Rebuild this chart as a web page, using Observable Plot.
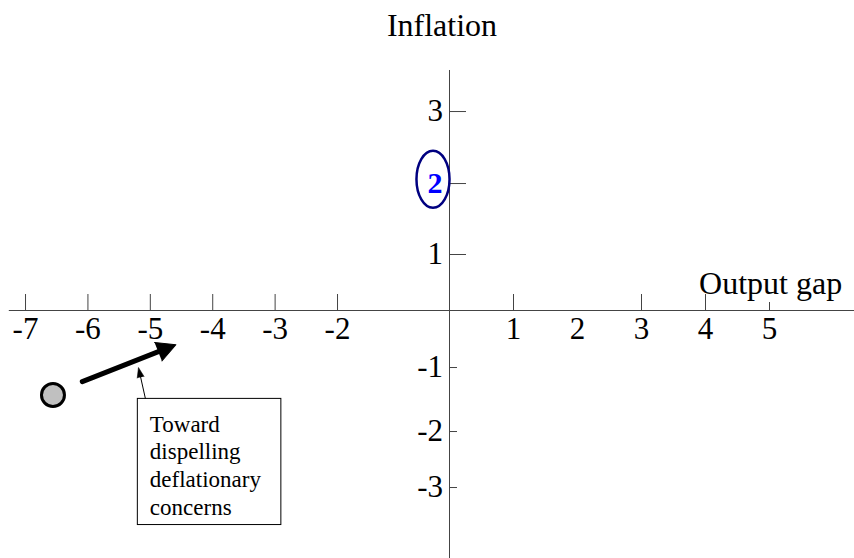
<!DOCTYPE html>
<html><head><meta charset="utf-8">
<script src="https://cdn.jsdelivr.net/npm/d3@7"></script>
<script src="https://cdn.jsdelivr.net/npm/@observablehq/plot@0.6"></script>
<style>body{margin:0;background:#fff}</style>
</head><body><div id="chart"></div>
<script>
// ---- data ----
const xTickLong = [-7, -6, -5, -4, -3, -2, 1, 3, 4];
const xTickShort = [5];
const xTickLabels = [-7, -6, -5, -4, -3, -2, 1, 2, 3, 4, 5];
const yTickLong = [1, 2, 3];
const yTickShort = [-1, -2, -3];
const yTickLabels = [-3, -2, -1, 1, 3];
const highlightedY = [2];
const xAxisTitle = "Output gap";
const yAxisTitle = "Inflation";
const xAxisExtent = [-7.26, 6.35];
const yAxisExtent = [-4.27, 3.57];
const xTitlePos = [3.9];
const startPoint = [{x: -6.56, y: -1.43}];
const moveArrow = [{x1: -6.09, y1: -1.22, x2: -4.59, y2: -0.60}];
const noteArrow = [{x1: -5.08, y1: -1.48, x2: -5.19, y2: -1.0}];
const noteBox = [{x1: -5.20, x2: -2.90, y1: -1.49, y2: -3.67}];
const noteLines = ["Toward", "dispelling", "deflationary", "concerns"];
const ellipseCenter = [{x: -0.295, y: 2.06}];

// ---- hand-drawn diagram: uneven tick spacing, expressed as scale transforms ----
const xWarp = d3.scaleLinear([-7, -2, 0, 5], [-6.625, -1.75, 0, 5]);
const yWarp = d3.scaleLinear([-3, -2, -1, 0, 1, 2, 3], [-2.766, -1.891, -0.891, 0, 0.875, 1.984, 3.109]);
const xScale = {transform: xWarp, domain: [-7.016, 6.328], range: [0, 854], axis: null};
const yScale = {transform: yWarp, domain: [-3.875, 4.844], range: [558, 0], axis: null};

// pixel-space direction of an arrow (both warped axes use 64 px per unit)
const angleOf = d => Math.atan2(xWarp(d.x2) - xWarp(d.x1), yWarp(d.y2) - yWarp(d.y1)) * 180 / Math.PI;
const moveAngle = angleOf(moveArrow[0]);
const noteAngle = angleOf(noteArrow[0]);

const ellipseSymbol = {
  draw(ctx, size) {
    const ry = Math.sqrt(size / Math.PI), rx = ry * 0.58, k = 0.5523;
    ctx.moveTo(0, -ry);
    ctx.bezierCurveTo(k * rx, -ry, rx, -k * ry, rx, 0);
    ctx.bezierCurveTo(rx, k * ry, k * rx, ry, 0, ry);
    ctx.bezierCurveTo(-k * rx, ry, -rx, k * ry, -rx, 0);
    ctx.bezierCurveTo(-rx, -k * ry, -k * rx, -ry, 0, -ry);
    ctx.closePath();
  }
};

const axisColor = "#444";
const font = "'Liberation Serif', 'Times New Roman', serif";

const chart = Plot.plot({
  width: 854,
  height: 558,
  margin: 0,
  x: xScale,
  y: yScale,
  style: {fontFamily: font, background: "#fff", color: "black"},
  marks: [
    Plot.ruleY([0], {x1: xAxisExtent[0], x2: xAxisExtent[1], stroke: axisColor}),
    Plot.ruleX([0], {y1: yAxisExtent[0], y2: yAxisExtent[1], stroke: axisColor}),
    Plot.ruleX(xTickLong, {x: d => d, y1: 0, y2: 0, insetTop: -16, stroke: axisColor}),
    Plot.ruleX(xTickShort, {x: d => d, y1: 0, y2: 0, insetTop: -8, stroke: axisColor}),
    Plot.ruleY(yTickLong, {y: d => d, x1: 0, x2: 0, insetRight: -17, stroke: axisColor}),
    Plot.ruleY(yTickShort, {y: d => d, x1: 0, x2: 0, insetRight: -8, stroke: axisColor}),
    Plot.text(xTickLabels, {x: d => d, y: 0, text: d => String(d), dy: 18.5, fontSize: 31, fill: "black"}),
    Plot.text(yTickLabels, {x: 0, y: d => d, text: d => String(d), dx: -6.5, textAnchor: "end", fontSize: 31, fill: "black"}),
    Plot.text(highlightedY, {x: 0, y: d => d, text: d => String(d), dx: -7, textAnchor: "end", fontSize: 30, fontWeight: "bold", fill: "#0000ff"}),
    Plot.dot(ellipseCenter, {x: "x", y: "y", r: 28.5, symbol: ellipseSymbol, stroke: "#000080", strokeWidth: 2.5, fill: "none"}),
    Plot.text([yAxisTitle], {x: 0, frameAnchor: "top", text: d => d, dx: -7.5, dy: 13, lineAnchor: "top", fontSize: 32, fill: "black"}),
    Plot.text([xAxisTitle], {x: xTitlePos[0], y: 0, text: d => d, textAnchor: "start", lineAnchor: "bottom", dy: -17, fontSize: 32, fill: "black"}),
    Plot.dot(startPoint, {x: "x", y: "y", r: 11.5, fill: "#c0c0c0", stroke: "black", strokeWidth: 3}),
    Plot.arrow(moveArrow, {x1: "x1", y1: "y1", x2: "x2", y2: "y2", stroke: "black", strokeWidth: 5, headLength: 0, insetEnd: 14}),
    Plot.vector(moveArrow, {x: "x2", y: "y2", rotate: moveAngle, length: 19, r: 10, shape: "spike", anchor: "end", fill: "black", stroke: "black", strokeWidth: 1}),
    Plot.rect(noteBox, {x1: "x1", x2: "x2", y1: "y1", y2: "y2", fill: "white", stroke: "black", strokeWidth: 1}),
    Plot.arrow(noteArrow, {x1: "x1", y1: "y1", x2: "x2", y2: "y2", stroke: "black", strokeWidth: 1, headLength: 0, insetEnd: 4}),
    Plot.vector(noteArrow, {x: "x2", y: "y2", rotate: noteAngle, length: 10, r: 3.5, shape: "spike", anchor: "end", fill: "black", stroke: "black", strokeWidth: 0.5}),
    Plot.text([noteLines.join("\n")], {x: noteBox[0].x1, y: noteBox[0].y1, text: d => d, dx: 12, dy: 13, textAnchor: "start", lineAnchor: "top", lineHeight: 1.21, fontSize: 23, fill: "black"})
  ]
});
document.getElementById("chart").appendChild(chart);
</script>
</body></html>
